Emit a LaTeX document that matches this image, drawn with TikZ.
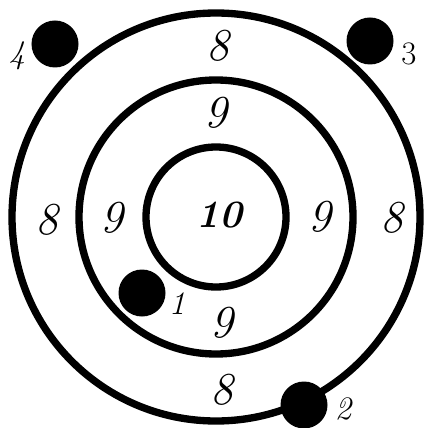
\documentclass[tikz,border=0pt]{standalone}
\usepackage{fontspec}
\begin{document}
\begin{tikzpicture}[x=0.03cm, y=-0.03cm,
  ring/.style={line width=0.22cm},
  hole/.style={circle, fill=black, inner sep=0pt, minimum size=1.41cm},
  score/.style={inner sep=0pt, font=\fontsize{39}{39}\selectfont\itshape},
  bull/.style={inner sep=0pt, font=\fontsize{33}{33}\selectfont\bfseries\itshape},
  tag/.style={inner sep=0pt, font=\fontsize{28}{28}\selectfont}]
\useasboundingbox (0,0) rectangle (427,428);
\coordinate (c) at (216,217);
% rings
\draw[ring] (c) circle[radius=204];
\draw[ring] (c) circle[radius=137];
\draw[ring] (c) circle[radius=70];
% scores
\node[bull] (ten) at (219,215) {10};
\node[score] (nine t) at (216,113) {9};
\node[score] (nine l) at (112,218) {9};
\node[score] (nine r) at (320,217) {9};
\node[score] (nine b) at (222,323) {9};
\node[score] (eight t) at (218,46) {8};
\node[score] (eight l) at (47,220) {8};
\node[score] (eight r) at (392,218) {8};
\node[score] (eight b) at (222,390) {8};
% shots
\node[hole] (shot1) at (142,293) {};
\node[hole] (shot2) at (304,405) {};
\node[hole] (shot3) at (370,41) {};
\node[hole] (shot4) at (55,44) {};
\node[tag, font=\fontsize{28}{28}\selectfont\itshape] (n1) at (177,304) {1};
\node[tag, font=\fontsize{28}{28}\selectfont\itshape] (n2) at (343,409) {2};
\node[tag] (n3) at (409,54) {3};
\node[tag, font=\fontsize{28}{28}\selectfont\itshape] (n4) at (17,56) {4};
\end{tikzpicture}
\end{document}
